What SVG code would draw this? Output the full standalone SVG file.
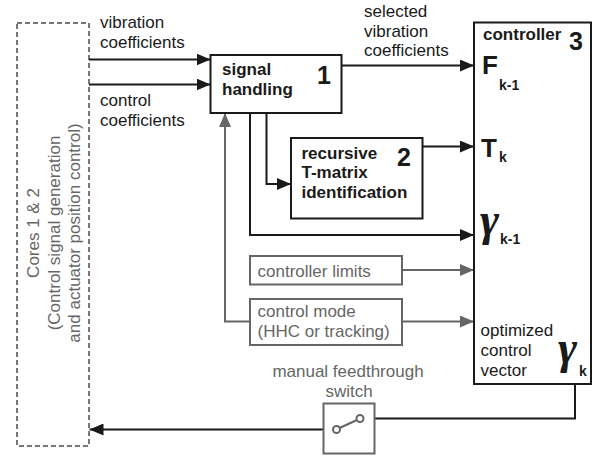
<svg xmlns="http://www.w3.org/2000/svg" width="595" height="457" viewBox="0 0 595 457">
<defs>
<style>
.t{font-family:"Liberation Sans",Arial,sans-serif;font-size:17px;fill:#1a1a1a}
.g{fill:#666}
.b{font-weight:bold}
.num{font-family:"Liberation Sans",Arial,sans-serif;font-weight:bold;font-size:25px;fill:#1a1a1a}
.big{font-family:"Liberation Sans",Arial,sans-serif;font-weight:bold;font-size:26px;fill:#1a1a1a}
.sub{font-family:"Liberation Sans",Arial,sans-serif;font-weight:bold;font-size:14px;fill:#1a1a1a}
.gam{font-family:"Liberation Serif","Times New Roman",serif;font-style:italic;font-weight:bold;font-size:46px;fill:#1a1a1a}
.box{fill:#fff;stroke:#1a1a1a;stroke-width:2}
.gbox{fill:#fff;stroke:#666;stroke-width:2}
.ln{fill:none;stroke:#1a1a1a;stroke-width:2}
.gln{fill:none;stroke:#666;stroke-width:2}
</style>
<marker id="ab" viewBox="0 0 14 12" refX="14" refY="6" markerWidth="14" markerHeight="12" markerUnits="userSpaceOnUse" orient="auto">
<path d="M0,0 L14,6 L0,12 Z" fill="#1a1a1a"/>
</marker>
<marker id="ag" viewBox="0 0 14 12" refX="14" refY="6" markerWidth="14" markerHeight="12" markerUnits="userSpaceOnUse" orient="auto">
<path d="M0,0 L14,6 L0,12 Z" fill="#666"/>
</marker>
</defs>
<rect width="595" height="457" fill="#fff"/>

<g id="cores">
<rect x="17" y="23" width="72" height="423" fill="none" stroke="#777" stroke-width="2" stroke-dasharray="5,3"/>
<g transform="translate(0,233) rotate(-90)">
<text class="t g" x="0" y="39" text-anchor="middle">Cores 1 &amp; 2</text>
<text class="t g" x="0" y="59.5" text-anchor="middle">(Control signal generation</text>
<text class="t g" x="0" y="80" text-anchor="middle">and actuator position control)</text>
</g>
</g>

<g id="connectors">
<line class="ln" x1="89" y1="59.5" x2="210.5" y2="59.5" marker-end="url(#ab)"/>
<line class="ln" x1="89" y1="84.5" x2="210.5" y2="84.5" marker-end="url(#ab)"/>
<line class="ln" x1="341.5" y1="65.5" x2="474" y2="65.5" marker-end="url(#ab)"/>
<polyline class="ln" points="266.5,113 266.5,184 291,184" marker-end="url(#ab)"/>
<polyline class="ln" points="250,113 250,235 474,235" marker-end="url(#ab)"/>
<line class="ln" x1="422.5" y1="146.5" x2="474" y2="146.5" marker-end="url(#ab)"/>
<line class="gln" x1="402" y1="270" x2="474" y2="270" marker-end="url(#ag)"/>
<line class="gln" x1="402" y1="321.5" x2="474" y2="321.5" marker-end="url(#ag)"/>
<polyline class="gln" points="250,321.5 225,321.5 225,113" marker-end="url(#ag)"/>
<polyline class="ln" points="575,384 575,418.5 363.5,418.5"/>
<line class="ln" x1="333" y1="429.5" x2="89.5" y2="429.5" marker-end="url(#ab)"/>
<text class="t" x="100" y="28">vibration</text>
<text class="t" x="100" y="48">coefficients</text>
<text class="t" x="100" y="106">control</text>
<text class="t" x="100" y="125.5">coefficients</text>
<text class="t" x="364" y="17">selected</text>
<text class="t" x="364" y="36.5">vibration</text>
<text class="t" x="364" y="56">coefficients</text>
</g>

<g id="signal-handling">
<rect class="box" x="210.5" y="55" width="131" height="58"/>
<text class="t b" x="222" y="75">signal</text>
<text class="t b" x="222" y="95">handling</text>
<text class="num" x="317" y="83.5">1</text>
</g>

<g id="t-matrix">
<rect class="box" x="291" y="138" width="131.5" height="80.5"/>
<text class="t b" x="301.5" y="158.5">recursive</text>
<text class="t b" x="301.5" y="178">T-matrix</text>
<text class="t b" x="301.5" y="198">identification</text>
<text class="num" x="397" y="165.5">2</text>
</g>

<g id="controller-limits">
<rect class="gbox" x="250" y="256" width="152" height="28.5"/>
<text class="t g" x="257.5" y="276.5">controller limits</text>
</g>

<g id="control-mode">
<rect class="gbox" x="250" y="299" width="152" height="46"/>
<text class="t g" x="257.5" y="317">control mode</text>
<text class="t g" x="257.5" y="337">(HHC or tracking)</text>
</g>

<g id="controller">
<rect class="box" x="474" y="22.5" width="117" height="361.5"/>
<text class="t b" x="483" y="40">controller</text>
<text class="num" x="569" y="50">3</text>
<text class="big" x="482" y="74">F</text>
<text class="sub" x="499" y="90">k-1</text>
<text class="big" x="481" y="157">T</text>
<text class="sub" x="499" y="162">k</text>
<text class="gam" x="480" y="235">γ</text>
<text class="sub" x="500" y="244">k-1</text>
<text class="t" x="480.5" y="336">optimized</text>
<text class="t" x="480.5" y="356">control</text>
<text class="t" x="480.5" y="376">vector</text>
<text class="gam" x="558" y="363">γ</text>
<text class="sub" x="579" y="376">k</text>
</g>

<g id="switch">
<text class="t g" x="348" y="376.5" text-anchor="middle">manual feedthrough</text>
<text class="t g" x="349" y="396.5" text-anchor="middle">switch</text>
<rect class="gbox" x="323.5" y="403.5" width="51" height="50"/>
<line class="gln" x1="339.5" y1="428" x2="357" y2="420"/>
<circle cx="336.5" cy="429.5" r="3.5" fill="#fff" stroke="#666" stroke-width="2"/>
<circle cx="360" cy="418.5" r="3.5" fill="#fff" stroke="#666" stroke-width="2"/>
</g>
</svg>
